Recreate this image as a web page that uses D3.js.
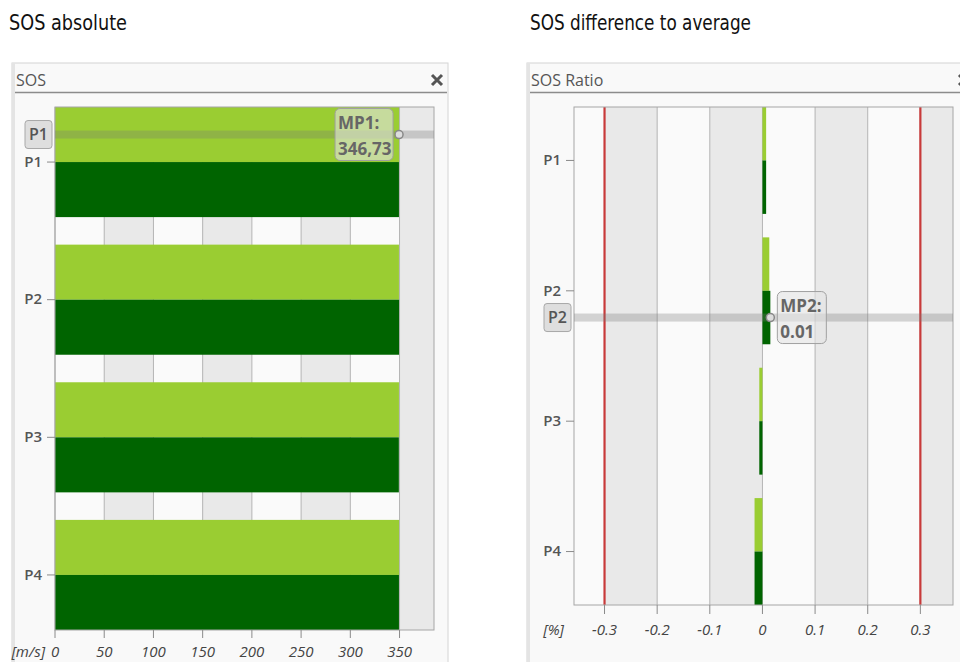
<!DOCTYPE html>
<html>
<head>
<meta charset="utf-8">
<script src="https://cdn.jsdelivr.net/npm/d3@7"></script>
<style>
  body { margin: 0; background: #fff; }
  svg { display: block; }
  text { font-family: 'Open Sans', sans-serif; }
</style>
</head>
<body>
<svg id="chart" width="960" height="662"></svg>
<script>
const categories = ['P1', 'P2', 'P3', 'P4'];

// SOS absolute [m/s], upper (light) and lower (dark) bar of each position
const sosUpper = [349.5, 349.4, 349.4, 349.5];
const sosLower = [349.4, 349.5, 349.3, 349.4];
const sosTicks = [0, 50, 100, 150, 200, 250, 300, 350];

// SOS difference to average [%]
const ratioUpper = [0.007, 0.013, -0.006, -0.015];
const ratioLower = [0.007, 0.015, -0.006, -0.015];
const ratioTicks = [-0.3, -0.2, -0.1, 0, 0.1, 0.2, 0.3];
const ratioLimits = [-0.3, 0.3];

const svg = d3.select('#chart');
const lightGreen = '#9acd32';
const darkGreen = '#006400';

// page headings (narrow font, squeezed to the original width)
svg.append('text').attr('x', 9).attr('y', 30)
      .style('font-family', "'Liberation Sans Narrow', 'DejaVu Sans Condensed', sans-serif")
      .style('font-stretch', 'condensed')
      .style('font-size', '21px').attr('fill', '#111')
      .attr('textLength', 118).attr('lengthAdjust', 'spacingAndGlyphs')
      .text('SOS absolute');
svg.append('text').attr('x', 530).attr('y', 30)
      .style('font-family', "'Liberation Sans Narrow', 'DejaVu Sans Condensed', sans-serif")
      .style('font-stretch', 'condensed')
      .style('font-size', '21px').attr('fill', '#111')
      .attr('textLength', 221).attr('lengthAdjust', 'spacingAndGlyphs')
      .text('SOS difference to average');

function drawPanel(cfg) {
      const g = svg.append('g');

      // window frame
      g.append('rect')
            .attr('x', cfg.frame[0]).attr('y', 63)
            .attr('width', cfg.frame[1] - cfg.frame[0]).attr('height', 620)
            .attr('fill', '#f9f9f9').attr('stroke', '#d4d4d4');
      g.append('rect')
            .attr('x', cfg.frame[0]).attr('y', 63)
            .attr('width', 3).attr('height', 600)
            .attr('fill', '#e4e4e4');
      g.append('text')
            .attr('x', cfg.frame[0] + 4).attr('y', 86)
            .style('font-size', '16px').style('font-weight', 500).attr('fill', '#555')
            .text(cfg.title);
      g.append('line')
            .attr('x1', cfg.frame[0] + 3).attr('x2', cfg.frame[1] - 1)
            .attr('y1', 92.5).attr('y2', 92.5)
            .attr('stroke', '#8c8c8c').attr('stroke-width', 1.5);
      const cx = cfg.frame[1] - 11;
      g.append('path')
            .attr('d', `M${cx - 5},75 L${cx + 5},85 M${cx + 5},75 L${cx - 5},85`)
            .attr('stroke', '#555').attr('stroke-width', 3);

      const x = d3.scaleLinear().domain(cfg.domain).range([cfg.left, cfg.right]);
      const y = d3.scaleBand().domain(categories).range([cfg.top, cfg.bottom]).paddingInner(cfg.pad);
      const ySub = d3.scaleBand().domain([0, 1]).range([0, y.bandwidth()]);

      // alternating column background
      const edges = Array.from(new Set([cfg.domain[0], ...cfg.ticks, cfg.domain[1]]));
      g.append('g').selectAll('rect')
            .data(d3.pairs(edges))
            .enter()
            .append('rect')
            .attr('x', d => x(d[0]))
            .attr('width', d => x(d[1]) - x(d[0]))
            .attr('y', cfg.top)
            .attr('height', cfg.bottom - cfg.top)
            .attr('fill', (d, i) => i % 2 ? '#e9e9e9' : '#fafafa');

      g.append('g').selectAll('line')
            .data(cfg.ticks)
            .enter()
            .append('line')
            .attr('x1', d => x(d)).attr('x2', d => x(d))
            .attr('y1', cfg.top).attr('y2', cfg.bottom)
            .attr('stroke', '#b4b4b4');

      const bars = categories.flatMap((c, i) => [
            { cat: c, s: 0, v: cfg.upper[i] },
            { cat: c, s: 1, v: cfg.lower[i] }
      ]);
      g.append('g').selectAll('rect')
            .data(bars)
            .enter()
            .append('rect')
            .attr('x', d => x(Math.min(0, d.v)))
            .attr('width', d => Math.abs(x(d.v) - x(0)))
            .attr('y', d => y(d.cat) + ySub(d.s))
            .attr('height', ySub.bandwidth())
            .attr('fill', d => d.s ? darkGreen : lightGreen);

      if (cfg.limits) {
            g.append('g').selectAll('line')
                  .data(cfg.limits)
                  .enter()
                  .append('line')
                  .attr('x1', d => x(d)).attr('x2', d => x(d))
                  .attr('y1', cfg.top).attr('y2', cfg.bottom)
                  .attr('stroke', '#c83a3a').attr('stroke-width', 2.2);
      }

      g.append('rect')
            .attr('x', cfg.left).attr('y', cfg.top)
            .attr('width', cfg.right - cfg.left).attr('height', cfg.bottom - cfg.top)
            .attr('fill', 'none').attr('stroke', '#a6a6a6');

      // axes
      const yAxis = g.append('g')
            .attr('transform', `translate(${cfg.left},0)`)
            .call(d3.axisLeft(y).tickSize(8).tickPadding(5).offset(0));
      yAxis.select('.domain').remove();
      yAxis.selectAll('.tick line').attr('stroke', '#8a8a8a');
      yAxis.selectAll('.tick text')
            .style('font-family', "'Open Sans', sans-serif")
            .style('font-size', '15px').style('font-weight', 600).attr('fill', '#555');

      const xAxis = g.append('g')
            .attr('transform', `translate(0,${cfg.bottom})`)
            .call(d3.axisBottom(x).tickValues(cfg.ticks).tickSize(cfg.tickLen).tickPadding(cfg.tickPad)
                  .tickFormat(cfg.format).offset(0));
      xAxis.select('.domain').remove();
      xAxis.selectAll('.tick line').attr('stroke', '#8a8a8a');
      xAxis.selectAll('.tick text')
            .style('font-family', "'Open Sans', sans-serif")
            .style('font-size', '15px').style('font-style', 'italic').attr('fill', '#444');
      g.append('text')
            .attr('x', cfg.unitX).attr('y', cfg.bottom + cfg.tickLen + cfg.tickPad)
            .attr('dy', '0.71em').attr('text-anchor', 'end')
            .style('font-size', '15px').style('font-style', 'italic').attr('fill', '#444')
            .text(cfg.unit);

      // cursor marker
      const m = cfg.marker;
      const idx = categories.indexOf(m.cat);
      const my = y(m.cat) + ySub(m.s) + ySub.bandwidth() / 2;
      const mv = m.s ? cfg.lower[idx] : cfg.upper[idx];
      const mx = x(mv);
      g.append('rect')
            .attr('x', cfg.left).attr('y', my - 4)
            .attr('width', cfg.right - cfg.left).attr('height', 8)
            .attr('fill', '#777').attr('fill-opacity', 0.3);
      g.append('rect')
            .attr('x', cfg.left - 30).attr('y', my - 14)
            .attr('width', 27).attr('height', 28).attr('rx', 3)
            .attr('fill', '#dedede').attr('stroke', '#a8a8a8');
      g.append('text')
            .attr('x', cfg.left - 16.5).attr('y', my).attr('dy', '0.36em')
            .attr('text-anchor', 'middle')
            .style('font-size', '16px').style('font-weight', 600).attr('fill', '#555')
            .text(m.cat);
      g.append('circle')
            .attr('cx', mx).attr('cy', my).attr('r', 4)
            .attr('fill', '#ddd').attr('stroke', '#888').attr('stroke-width', 1.5);
      const bx = m.side < 0 ? mx - 6 - m.w : mx + 7;
      g.append('rect')
            .attr('x', bx).attr('y', my - 26)
            .attr('width', m.w).attr('height', 52).attr('rx', 5)
            .attr('fill', '#e4e4e4').attr('fill-opacity', 0.6)
            .attr('stroke', '#a0a0a0');
      g.append('text')
            .attr('x', bx + 3).attr('y', my - 12).attr('dy', '0.36em')
            .style('font-size', '17px').style('font-weight', 700).attr('fill', '#666')
            .text(m.name + ':');
      g.append('text')
            .attr('x', bx + 3).attr('y', my + 14).attr('dy', '0.36em')
            .style('font-size', '17px').style('font-weight', 700).attr('fill', '#666')
            .text(m.label);
}

drawPanel({
      title: 'SOS',
      frame: [12, 448],
      left: 55, right: 434, top: 107, bottom: 630, pad: 0.2,
      domain: [0, 385],
      ticks: sosTicks,
      upper: sosUpper, lower: sosLower,
      tickLen: 8, tickPad: 8,
      format: d => d,
      unit: '[m/s]', unitX: 45,
      marker: { cat: 'P1', s: 0, name: 'MP1', label: '346,73', side: -1, w: 58 }
});

drawPanel({
      title: 'SOS Ratio',
      frame: [527, 975],
      left: 574, right: 953, top: 107, bottom: 605, pad: 0.18,
      domain: [-0.358, 0.362],
      ticks: ratioTicks,
      limits: ratioLimits,
      upper: ratioUpper, lower: ratioLower,
      tickLen: 9, tickPad: 10,
      format: d => d === 0 ? '0' : d.toFixed(1),
      unit: '[%]', unitX: 564,
      marker: { cat: 'P2', s: 1, name: 'MP2', label: '0.01', side: 1, w: 49 }
});
</script>
</body>
</html>
